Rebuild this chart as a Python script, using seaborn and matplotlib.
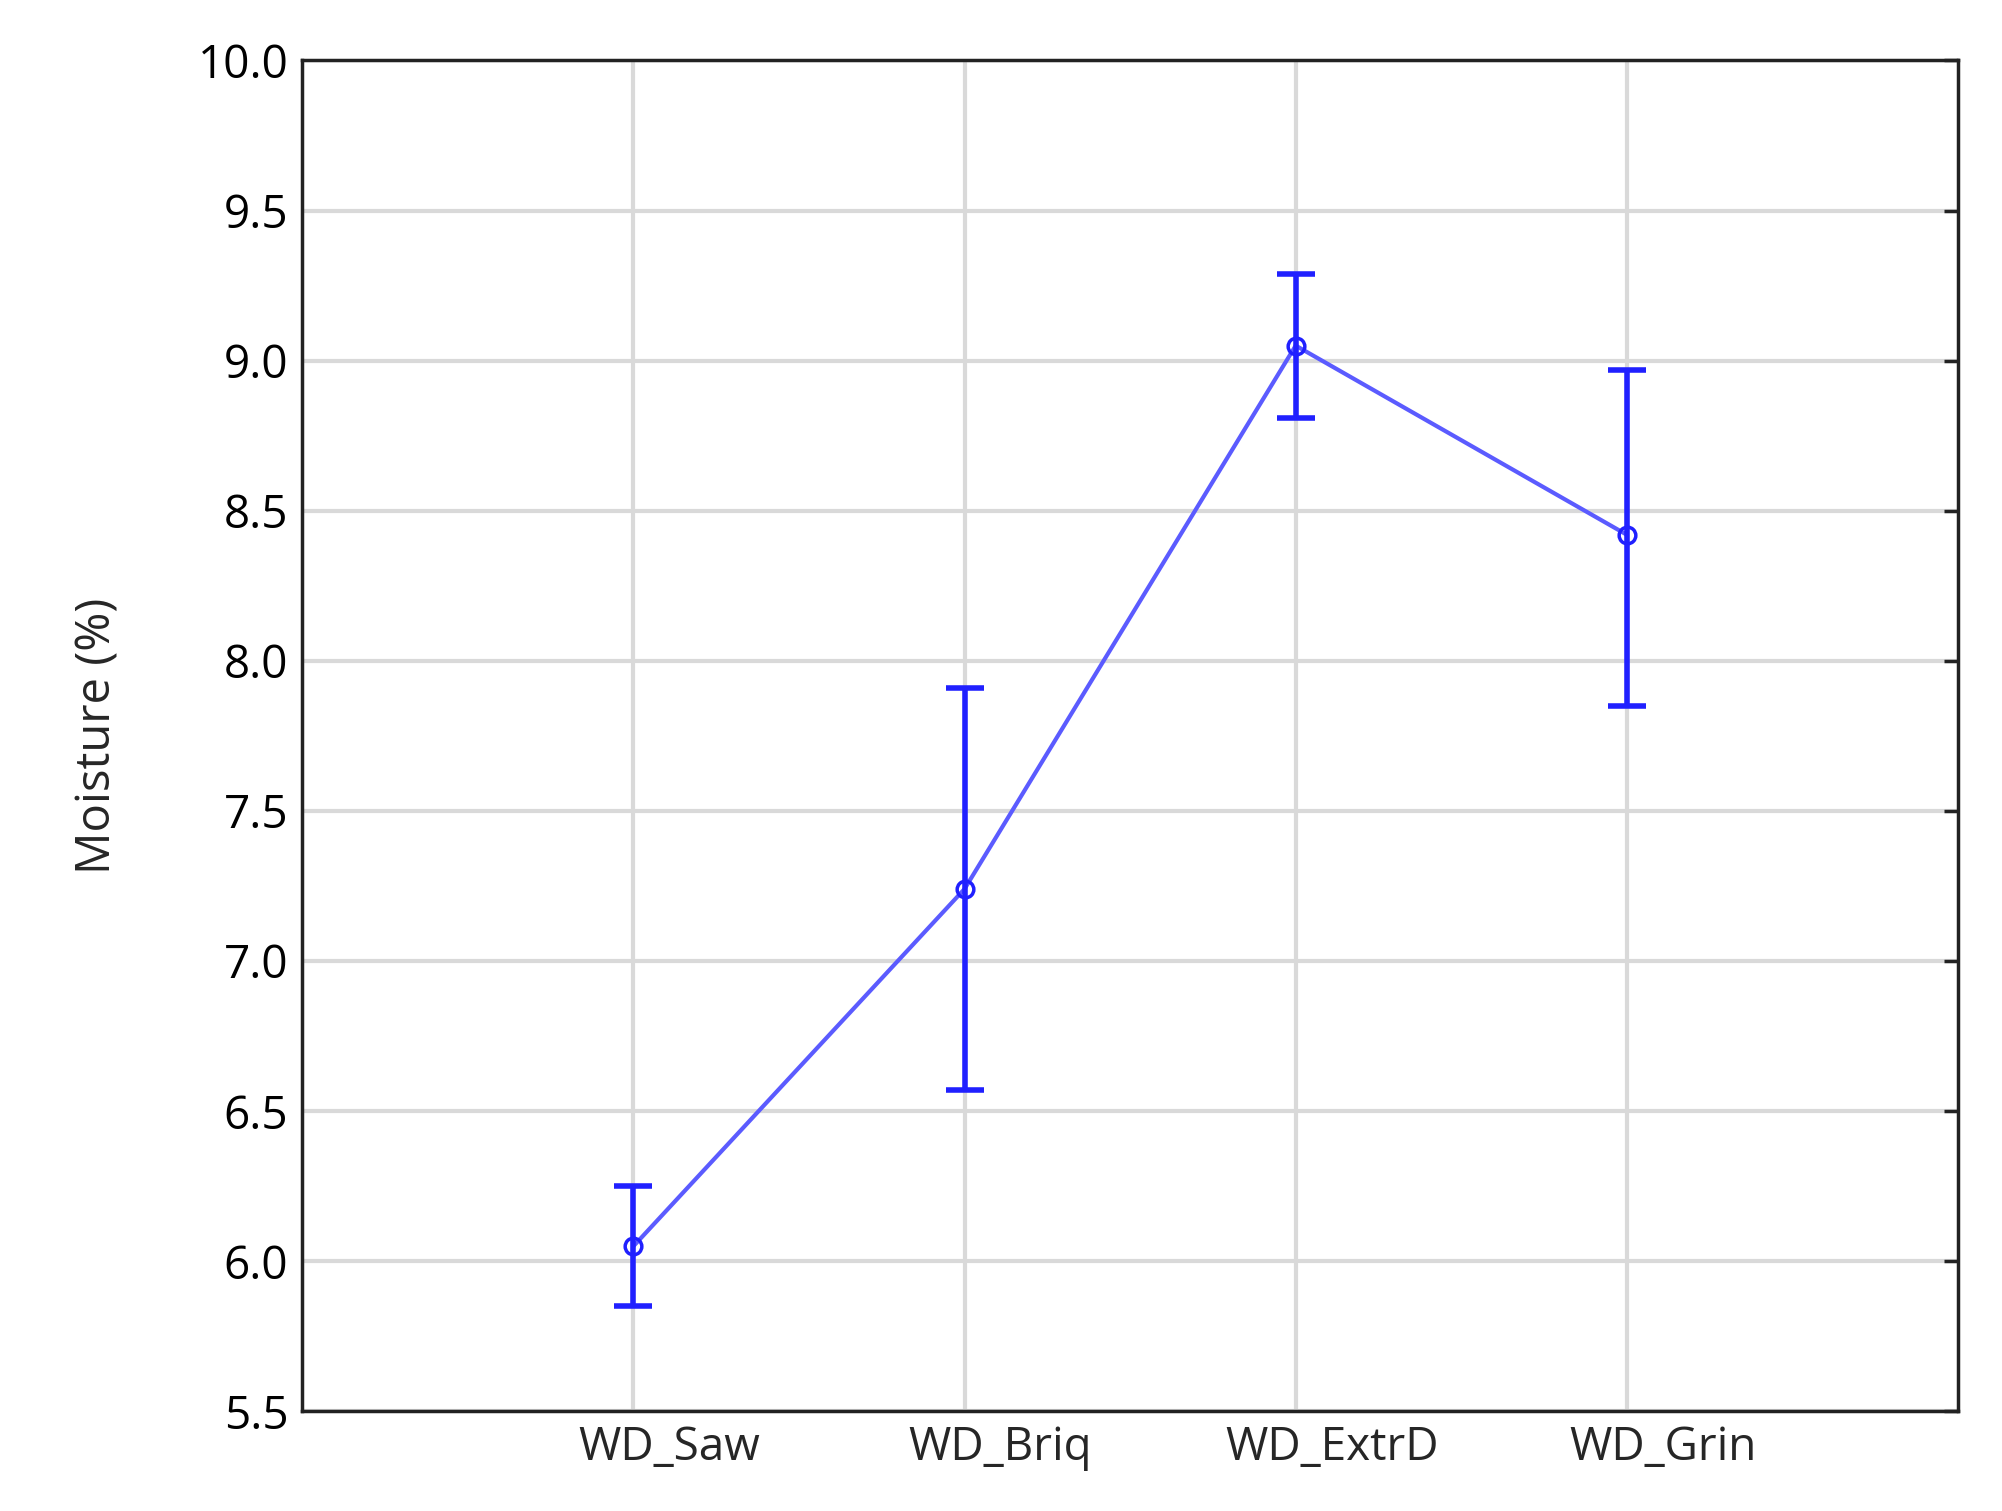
import matplotlib
matplotlib.use("Agg")
import matplotlib.pyplot as plt
import matplotlib.transforms as mtrans
import seaborn as sns
import pandas as pd

categories = ["WD_Saw", "WD_Briq", "WD_ExtrD", "WD_Grin"]
means = [6.05, 7.24, 9.05, 8.42]
upper = [6.25, 7.91, 9.29, 8.97]
lower = [5.85, 6.57, 8.81, 7.85]

sns.set_style("white")
plt.rcParams['font.family'] = ['Open Sans', 'DejaVu Sans']

df = pd.DataFrame({"cat": categories, "m": means, "x": range(len(categories))})
fig = plt.figure(figsize=(20.02, 15.11), dpi=100)
ax = fig.add_axes([0.151, 0.066, 0.833 - 0.006, 0.894])

sns.lineplot(data=df, x="x", y="m", ax=ax, color="#5b5bff", linewidth=3,
             marker="o", markersize=12, markerfacecolor="none",
             markeredgecolor="#2020ff", markeredgewidth=2.5)
yerr = [[m - l for m, l in zip(means, lower)], [u - m for u, m in zip(upper, means)]]
ax.errorbar(df["x"], means, yerr=yerr, fmt="none", ecolor="#2020ff",
            elinewidth=4, capsize=14, capthick=4, zorder=3)

ax.set_xlim(-1, 4)
ax.set_ylim(5.5, 10.0)
ax.set_yticks([5.5, 6.0, 6.5, 7.0, 7.5, 8.0, 8.5, 9.0, 9.5, 10.0])
ax.set_yticklabels([f"{v:.1f}" for v in ax.get_yticks()])
ax.set_xticks(range(len(categories)))
ax.set_xticklabels(categories)
ax.grid(True, color="#d9d9d9", linewidth=3)
ax.set_axisbelow(True)
for s in ax.spines.values():
    s.set_color("#222222")
    s.set_linewidth(2.5)
ax.tick_params(axis="both", labelsize=33, length=0, pad=10)
ax.tick_params(axis="y", right=True, direction="in", length=10, width=2.5, colors="#222222")
ax.tick_params(axis="y", labelcolor="black")
off = mtrans.ScaledTranslation(0.36, 0, fig.dpi_scale_trans)
for lab in ax.get_xticklabels():
    lab.set_transform(lab.get_transform() + off)
ax.set_xlabel("")
ax.set_ylabel("Moisture (%)", fontsize=34, labelpad=55)

fig.savefig("out.png", dpi=100, facecolor="white")
